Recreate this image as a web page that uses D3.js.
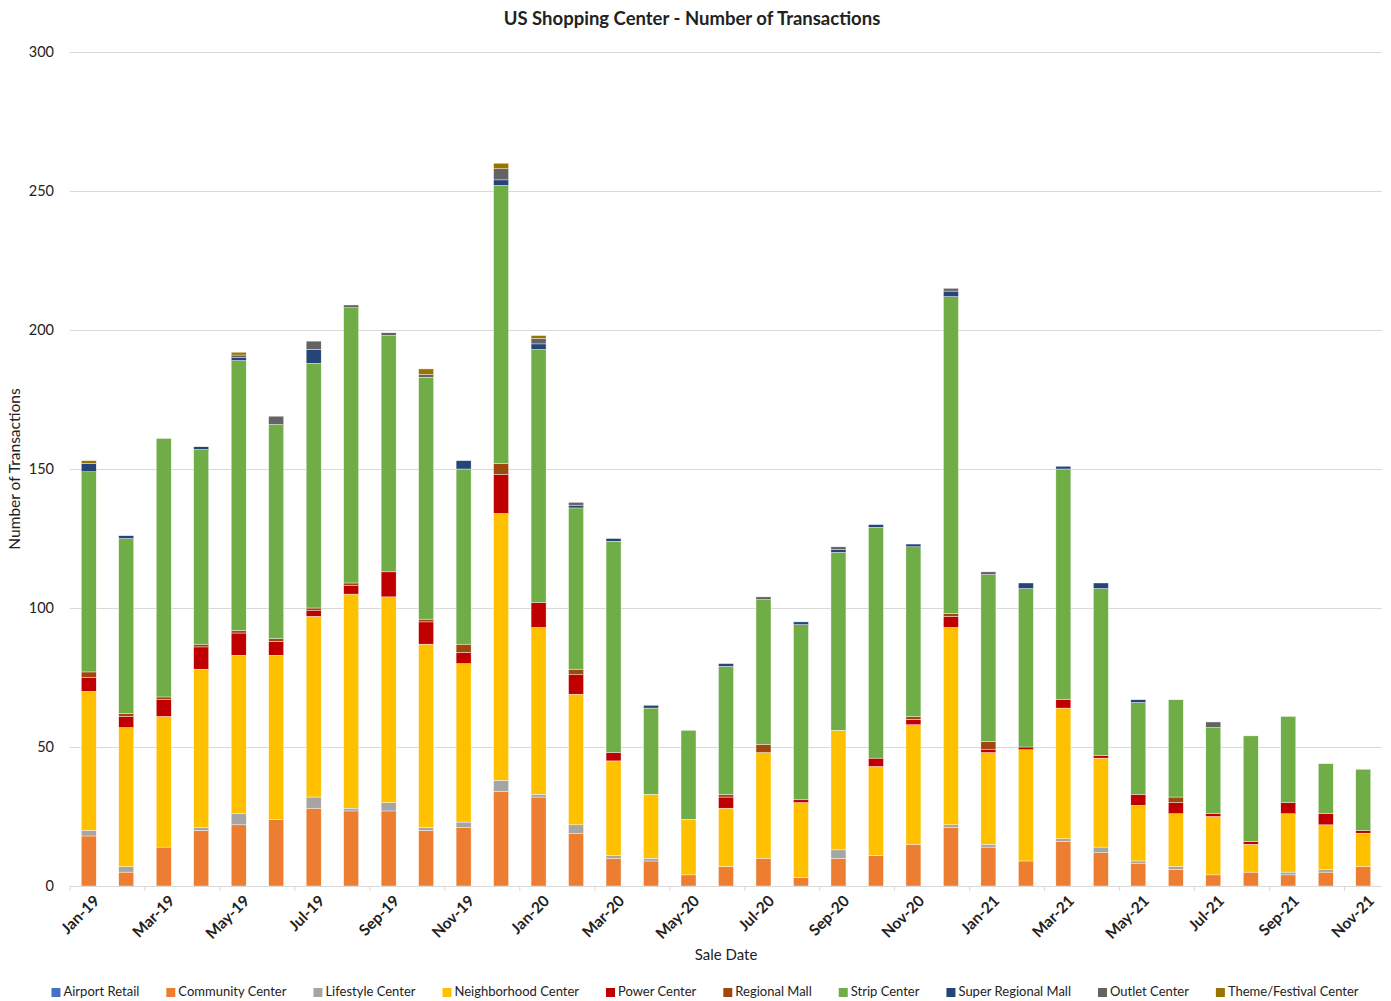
<!DOCTYPE html>
<html>
<head>
<meta charset="utf-8">
<script src="https://cdnjs.cloudflare.com/ajax/libs/d3/7.8.5/d3.min.js"></script>
<style>
  body { margin: 0; background: #fff; }
  text { font-family: Lato, "Open Sans", sans-serif; fill: #222; }
</style>
</head>
<body>
<svg width="1391" height="1001"></svg>
<script>
  var months = ["Jan-19","Feb-19","Mar-19","Apr-19","May-19","Jun-19","Jul-19","Aug-19","Sep-19","Oct-19","Nov-19","Dec-19",
                "Jan-20","Feb-20","Mar-20","Apr-20","May-20","Jun-20","Jul-20","Aug-20","Sep-20","Oct-20","Nov-20","Dec-20",
                "Jan-21","Feb-21","Mar-21","Apr-21","May-21","Jun-21","Jul-21","Aug-21","Sep-21","Oct-21","Nov-21"];

  var seriesNames = ["Airport Retail","Community Center","Lifestyle Center","Neighborhood Center","Power Center",
                     "Regional Mall","Strip Center","Super Regional Mall","Outlet Center","Theme/Festival Center"];
  var seriesColors = ["#4472C4","#ED7D31","#A5A5A5","#FFC000","#C00000","#9E480E","#70AD47","#264478","#636363","#997300"];

  var airport      = [0,0,0,0,0,0,0,0,0,0,0,0, 0,0,0,0,0,0,0,0,0,0,0,0, 0,0,0,0,0,0,0,0,0,0,0];
  var community    = [18,5,14,20,22,24,28,27,27,20,21,34, 32,19,10,9,4,7,10,3,10,11,15,21, 14,9,16,12,8,6,4,5,4,5,7];
  var lifestyle    = [2,2,0,1,4,0,4,1,3,1,2,4, 1,3,1,1,0,0,0,0,3,0,0,1, 1,0,1,2,1,1,0,0,1,1,0];
  var neighborhood = [50,50,47,57,57,59,65,77,74,66,57,96, 60,47,34,23,20,21,38,27,43,32,43,71, 33,40,47,32,20,19,21,10,21,16,12];
  var power        = [5,4,6,8,8,5,2,3,9,8,4,14, 9,7,3,0,0,4,0,1,0,3,2,4, 1,1,3,1,4,4,1,1,4,4,1];
  var regional     = [2,1,1,1,1,1,1,1,0,1,3,4, 0,2,0,0,0,1,3,0,0,0,1,1, 3,0,0,0,0,2,0,0,0,0,0];
  var strip        = [72,63,93,70,97,77,88,99,85,87,63,100, 91,58,76,31,32,46,52,63,64,83,61,114, 60,57,83,60,33,35,31,38,31,18,22];
  var superRegional= [3,1,0,1,1,0,5,0,0,0,3,2, 2,1,1,1,0,1,0,1,1,1,1,2, 0,2,1,2,1,0,0,0,0,0,0];
  var outlet       = [0,0,0,0,1,3,3,1,1,1,0,4, 2,1,0,0,0,0,1,0,1,0,0,1, 1,0,0,0,0,0,2,0,0,0,0];
  var theme        = [1,0,0,0,1,0,0,0,0,2,0,2, 1,0,0,0,0,0,0,0,0,0,0,0, 0,0,0,0,0,0,0,0,0,0,0];

  var yTicks = [0, 50, 100, 150, 200, 250, 300];

  var seriesValues = [airport, community, lifestyle, neighborhood, power, regional, strip, superRegional, outlet, theme];

  var rows = months.map(function(m, i) {
    var r = { month: m };
    seriesNames.forEach(function(s, j) { r[s] = seriesValues[j][i]; });
    return r;
  });

  var plotLeft = 70, plotRight = 1382, plotTop = 52, plotBottom = 886;
  var svg = d3.select("svg");

  var x = d3.scaleBand().domain(months).range([plotLeft, plotRight]).paddingInner(0.6).paddingOuter(0.3);
  var y = d3.scaleLinear().domain([0, 300]).range([plotBottom, plotTop]);

  var stacked = d3.stack().keys(seriesNames)(rows);

  // gridlines + y labels
  svg.append("g").selectAll("line").data(yTicks.filter(function(t) { return t > 0; })).enter()
      .append("line")
      .attr("x1", plotLeft).attr("x2", plotRight)
      .attr("y1", function(d) { return y(d) + 0.5; }).attr("y2", function(d) { return y(d) + 0.5; })
      .attr("stroke", "#d9d9d9").attr("stroke-width", 1);

  svg.append("g").selectAll("text").data(yTicks).enter()
      .append("text")
      .attr("x", 54).attr("y", function(d) { return y(d); })
      .attr("dy", "0.35em").attr("text-anchor", "end")
      .attr("font-size", 14.5)
      .text(function(d) { return d; });

  // bars
  svg.append("g").selectAll("g").data(stacked).enter()
      .append("g")
      .attr("fill", function(d, i) { return seriesColors[i]; })
      .selectAll("rect").data(function(d) { return d; }).enter()
      .append("rect")
      .attr("x", function(d) { return x(d.data.month); })
      .attr("width", x.bandwidth())
      .attr("y", function(d) { return y(d[1]); })
      .attr("height", function(d) { return y(d[0]) - y(d[1]); })
      .attr("stroke", "#fff").attr("stroke-width", 0.4);

  // x axis line + ticks
  svg.append("line").attr("x1", plotLeft).attr("x2", plotRight).attr("y1", plotBottom + 0.5).attr("y2", plotBottom + 0.5)
      .attr("stroke", "#d9d9d9");
  var tickIdx = d3.range(0, months.length + 1, 2);
  svg.append("g").selectAll("line").data(tickIdx).enter()
      .append("line")
      .attr("x1", function(i) { return plotLeft + i * x.step(); })
      .attr("x2", function(i) { return plotLeft + i * x.step(); })
      .attr("y1", plotBottom).attr("y2", plotBottom + 5)
      .attr("stroke", "#d9d9d9");

  svg.append("g").selectAll("text").data(months.filter(function(m, i) { return i % 2 === 0; })).enter()
      .append("text")
      .attr("text-anchor", "end")
      .attr("font-size", 15.5).attr("font-weight", "bold")
      .attr("transform", function(m) {
        return "translate(" + (x(m) + x.bandwidth() / 2 + 8) + "," + (plotBottom + 12) + ") rotate(-45)";
      })
      .attr("dy", "0.35em")
      .text(function(m) { return m; });

  // titles
  svg.append("text").attr("x", 692).attr("y", 25).attr("text-anchor", "middle")
      .attr("font-size", 18.5).attr("font-weight", "bold")
      .text("US Shopping Center - Number of Transactions");

  svg.append("text").attr("x", 726).attr("y", 960).attr("text-anchor", "middle")
      .attr("font-size", 15).text("Sale Date");

  svg.append("text").attr("transform", "translate(20," + ((plotTop + plotBottom) / 2) + ") rotate(-90)")
      .attr("text-anchor", "middle").attr("font-size", 15.5).text("Number of Transactions");

  // legend
  var legend = svg.append("g");
  var items = legend.selectAll("g").data(seriesNames).enter().append("g");
  items.append("rect").attr("width", 9).attr("height", 9).attr("y", -8)
      .attr("fill", function(d, i) { return seriesColors[i]; });
  items.append("text").attr("x", 12).attr("font-size", 13).text(function(d) { return d; });

  var pos = 0, gap = 27;
  items.each(function() {
    var w = d3.select(this).select("text").node().getComputedTextLength() + 12;
    d3.select(this).attr("transform", "translate(" + pos + ",0)");
    pos += w + gap;
  });
  pos -= gap;
  legend.attr("transform", "translate(" + (705 - pos / 2) + ",996)");
</script>
</body>
</html>
